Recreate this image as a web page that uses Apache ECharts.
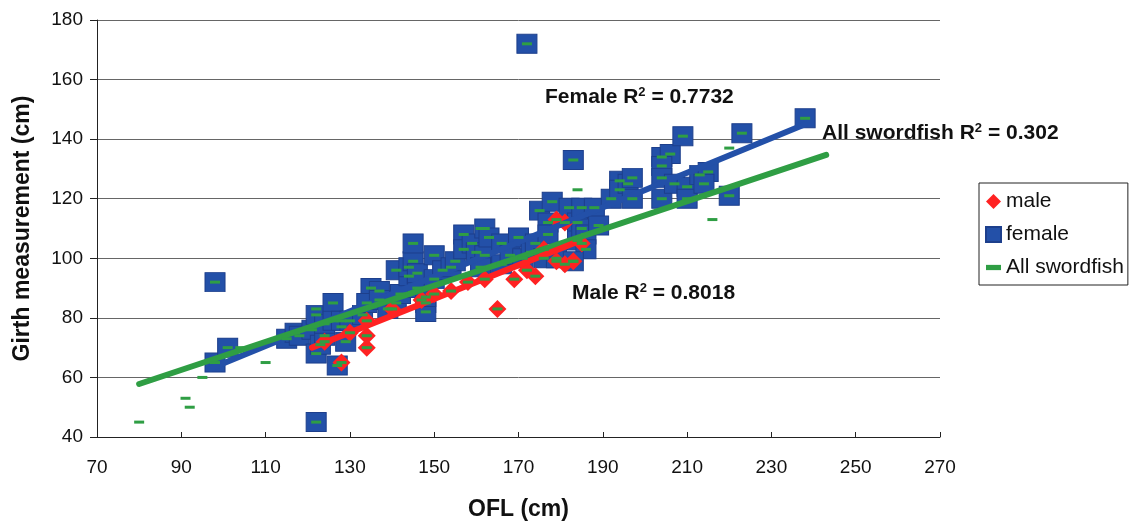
<!DOCTYPE html>
<html>
<head>
<meta charset="utf-8">
<script src="https://cdn.jsdelivr.net/npm/echarts@6/dist/echarts.min.js"></script>
<style>
  html, body { margin: 0; padding: 0; background: #fff; }
  #chart { width: 1132px; height: 522px; }
</style>
</head>
<body>
<div id="chart"></div>
<script>
// Girth vs. orbital fork length (OFL), by sex
const xTicks = [70, 270, 20];   // min, max, step
const yTicks = [40, 180, 20];

const maleFish = [
  [128, 65], [124, 72], [130, 75], [134, 70], [134, 74], [134, 79], [140, 83],
  [147, 86], [150, 88], [154, 89], [158, 92], [162, 93], [165, 83], [169, 93],
  [172, 96], [174, 94], [176, 103], [179, 99], [181, 98], [183, 99], [179, 113],
  [181, 112], [185, 105]
];

const femaleFish = [
  [98, 92], [98, 65], [101, 70], [122, 45], [115, 73], [117, 75], [118, 74],
  [121, 76], [122, 68], [123, 71], [122, 81], [124, 74], [124, 78], [126, 85],
  [126, 79], [127, 64], [128, 79], [129, 72], [130, 79], [133, 81], [135, 90],
  [137, 89], [134, 85], [137, 86], [139, 83], [141, 85], [141, 96], [142, 88],
  [144, 94], [144, 97], [145, 99], [145, 105], [146, 90], [146, 95], [148, 85],
  [148, 82], [148, 87], [150, 101], [150, 93], [152, 96], [154, 97], [155, 99],
  [157, 108], [157, 103], [159, 105], [160, 102], [162, 110], [162, 101],
  [163, 107], [161, 97], [166, 105], [166, 98], [168, 101], [170, 107],
  [171, 100], [172, 172], [173, 102], [174, 105], [175, 116], [177, 112],
  [177, 108], [176, 100], [178, 119], [179, 100], [182, 117], [183, 133],
  [184, 112], [184, 106], [185, 117], [185, 110], [186, 108], [186, 103],
  [183, 99], [188, 117], [189, 111], [192, 120], [194, 126], [194, 123],
  [196, 125], [197, 127], [197, 120], [204, 134], [206, 135], [204, 131],
  [204, 127], [204, 120], [207, 125], [209, 141], [210, 124], [210, 120],
  [213, 128], [215, 129], [214, 125], [220, 121], [223, 142], [238, 147]
];

// fish of undetermined sex (only in the pooled series)
const unsexedFish = [
  [80, 45], [91, 53], [92, 50], [95, 60], [104, 70], [110, 65], [122, 83],
  [128, 77], [161, 110], [184, 123], [216, 113], [220, 137]
];

const allFish = femaleFish.concat(maleFish, unsexedFish);

// linear trend lines (end points)
const femaleTrend = [[97, 63], [238, 145]];
const maleTrend = [[121, 70], [183, 105]];
const allTrend = [[80, 57.8], [243, 134.7]];

const FONT = 'Liberation Sans, Arial, sans-serif';
const BLUE = '#2350a8';
const RED = '#ff2222';
const GREEN = '#2f9e44';

const chart = echarts.init(document.getElementById('chart'), null, { renderer: 'canvas' });

function trend(name, data, color) {
  return {
    name: name + ' trend', type: 'line', data: data, showSymbol: false, silent: true,
    lineStyle: { color: color, width: 6, cap: 'round' }, z: 5
  };
}

const richR2 = {
  b: { fontFamily: FONT, fontSize: 21, fontWeight: 'bold', fill: '#111' },
  s: { fontFamily: FONT, fontSize: 13, fontWeight: 'bold', fill: '#111', verticalAlign: 'top', padding: [0, 0, 10, 0] }
};

function r2Label(text, value, left, top) {
  return {
    type: 'text', left: left, top: top,
    style: { text: '{b|' + text + ' R}{s|2}{b| = ' + value + '}', rich: richR2 }
  };
}

chart.setOption({
  animation: false,
  backgroundColor: '#fff',
  grid: { left: 97, right: 192, top: 20, bottom: 85, containLabel: false, outerBoundsMode: 'none' },
  xAxis: {
    type: 'value', min: xTicks[0], max: xTicks[1], interval: xTicks[2],
    name: 'OFL (cm)', nameLocation: 'middle', nameGap: 61,
    nameTextStyle: { fontFamily: FONT, fontSize: 23, fontWeight: 'bold', color: '#111' },
    axisLine: { lineStyle: { color: '#222', width: 1 } },
    axisTick: { inside: true, length: 5, lineStyle: { color: '#222' } },
    axisLabel: { fontFamily: FONT, fontSize: 19, color: '#111', margin: 21 },
    splitLine: { show: false }
  },
  yAxis: {
    type: 'value', min: yTicks[0], max: yTicks[1], interval: yTicks[2],
    name: 'Girth measurement (cm)', nameLocation: 'middle', nameGap: 63,
    nameTextStyle: { fontFamily: FONT, fontSize: 23, fontWeight: 'bold', color: '#111' },
    axisLine: { show: true, lineStyle: { color: '#222', width: 1 } },
    axisTick: { show: true, length: 7, lineStyle: { color: '#222' } },
    axisLabel: { fontFamily: FONT, fontSize: 19, color: '#111', margin: 14 },
    splitLine: { lineStyle: { color: '#666', width: 1 } }
  },
  legend: {
    orient: 'vertical', left: 979, top: 183,
    borderColor: '#222', borderWidth: 1, padding: [8, 4, 7, 6],
    itemGap: 12, itemWidth: 15, itemHeight: 15,
    textStyle: { fontFamily: FONT, fontSize: 21, color: '#111' },
    data: [
      { name: 'male', icon: 'diamond' },
      { name: 'female', icon: 'rect' },
      { name: 'All swordfish', icon: 'path://M0,0H10V3.5H0Z' }
    ]
  },
  graphic: [
    r2Label('Female', '0.7732', 545, 86),
    r2Label('All swordfish', '0.302', 822, 122),
    r2Label('Male', '0.8018', 572, 282)
  ],
  series: [
    {
      name: 'female', type: 'scatter', data: femaleFish, symbol: 'rect', symbolSize: [20, 19],
      itemStyle: { color: BLUE, borderColor: '#1d3f8c', borderWidth: 1, opacity: 1 }, z: 2
    },
    {
      name: 'male', type: 'scatter', data: maleFish, symbol: 'diamond', symbolSize: [18, 18],
      itemStyle: { color: RED, opacity: 1 }, z: 3
    },
    trend('female', femaleTrend, BLUE),
    trend('All swordfish', allTrend, GREEN),
    trend('male', maleTrend, RED),
    {
      name: 'All swordfish', type: 'scatter', data: allFish, symbol: 'rect', symbolSize: [10, 3],
      itemStyle: { color: GREEN, opacity: 1 }, z: 6
    }
  ]
});
</script>
</body>
</html>
